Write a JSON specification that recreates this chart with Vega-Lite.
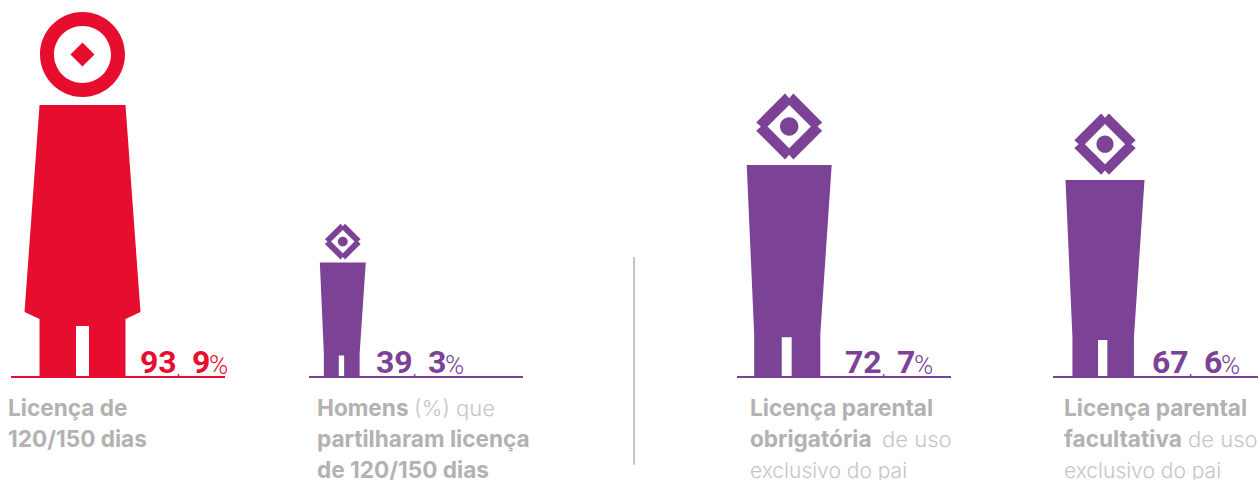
{
"$schema":"https://vega.github.io/schema/vega-lite/v6.json",
"width":1258,"height":480,"padding":0,
"autosize":{"type":"fit","contains":"padding"},
"background":"white",
"config":{"view":{"stroke":null}},
"datasets":{
"figuras":[
{"ordem":0,"categoria":"Licença de 120/150 dias","grupo":"mulheres","valor":93.9,"inteiro":"93","decimal":"9"},
{"ordem":1,"categoria":"Homens (%) que partilharam licença de 120/150 dias","grupo":"homens","valor":39.3,"inteiro":"39","decimal":"3"},
{"ordem":2,"categoria":"Licença parental obrigatória de uso exclusivo do pai","grupo":"homens","valor":72.7,"inteiro":"72","decimal":"7"},
{"ordem":3,"categoria":"Licença parental facultativa de uso exclusivo do pai","grupo":"homens","valor":67.6,"inteiro":"67","decimal":"6"}
],
"rotulos":[
{"ordem":0,"linha":1,"texto":"Licença de","peso":"forte"},
{"ordem":0,"linha":2,"texto":"120/150 dias","peso":"forte"},
{"ordem":1,"linha":1,"texto":"Homens","peso":"forte"},
{"ordem":1,"linha":1,"texto":"(%) que","peso":"leve2"},
{"ordem":1,"linha":2,"texto":"partilharam licença","peso":"forte"},
{"ordem":1,"linha":3,"texto":"de 120/150 dias","peso":"forte"},
{"ordem":2,"linha":1,"texto":"Licença parental","peso":"forte"},
{"ordem":2,"linha":2,"texto":"obrigatória","peso":"forte"},
{"ordem":2,"linha":2,"texto":"de uso","peso":"leve2"},
{"ordem":2,"linha":3,"texto":"exclusivo do pai","peso":"leve"},
{"ordem":3,"linha":1,"texto":"Licença parental","peso":"forte"},
{"ordem":3,"linha":2,"texto":"facultativa","peso":"forte"},
{"ordem":3,"linha":2,"texto":"de uso","peso":"leve2"},
{"ordem":3,"linha":3,"texto":"exclusivo do pai","peso":"leve"}
]
},
"resolve":{"scale":{"x":"independent","y":"independent","size":"independent","shape":"independent"}},
"layer":[
{"data":{"values":[{"divisao":1.5}]},
 "mark":{"type":"rule","color":"#b2b2b2","strokeWidth":1.5},
 "encoding":{
  "x":{"field":"divisao","type":"quantitative","axis":null,"scale":{"domain":[0,1,1.5,2,3],"range":[82.5,343,634,789,1105]}},
  "y":{"datum":30.9,"type":"quantitative","axis":null,"scale":{"domain":[0,100],"range":[377,-11.7]}},
  "y2":{"datum":-22.6}
 }},
{"data":{"name":"figuras"},
 "mark":{"type":"point","filled":true,"opacity":1,"size":4,"shape":"M-107 -1H107V1H-107Z"},
 "encoding":{
  "x":{"field":"ordem","type":"quantitative","axis":null,"scale":{"domain":[0,1,2,3],"range":[118,416,844,1160]}},
  "y":{"datum":0,"type":"quantitative","axis":null,"scale":{"domain":[0,100],"range":[377,-11.7]}},
  "color":{"field":"grupo","type":"nominal","legend":null,"scale":{"domain":["mulheres","homens"],"range":["#e60d2e","#7b4295"]}}
 }},
{"data":{"name":"figuras"},
 "mark":{"type":"point","filled":true,"opacity":1},
 "encoding":{
  "x":{"field":"ordem","type":"quantitative","axis":null,"scale":{"domain":[0,1,2,3],"range":[82.5,342.8,789.2,1105]}},
  "y":{"datum":0,"type":"quantitative","axis":null,"scale":{"domain":[0,100],"range":[377,-11.7]}},
  "size":{"field":"valor","type":"quantitative","legend":null,"scale":{"type":"pow","exponent":2,"domain":[0,100],"range":[0,151000]}},
  "color":{"field":"grupo","type":"nominal","legend":null,"scale":{"domain":["mulheres","homens"],"range":["#e60d2e","#7b4295"]}},
  "shape":{"field":"grupo","type":"nominal","legend":null,"scale":{"domain":["mulheres","homens"],"range":[
"M-.2356 -1.4904H.2356L.3178 -.3562L.2356 -.3178V0H.0356V-.2795H-.0356V0H-.2356V-.3178L-.3178 -.3562ZM-.2329 -1.7671A.2329 .2329 0 1 1 .2329 -1.7671A.2329 .2329 0 1 1 -.2329 -1.7671ZM-.1562 -1.7671A.1562 .1562 0 1 0 .1562 -1.7671A.1562 .1562 0 1 0 -.1562 -1.7671ZM0 -1.8329L.0658 -1.7671L0 -1.7013L-.0658 -1.7671Z",
"M-.3008 -1.5005H.3008L.2204 -.3043V0H.0176V-.281H-.0528V0H-.248V-.3043ZM-.0296 -2.0068L0 -1.9733L.0296 -2.0068L.2338 -1.8026L.2003 -1.773L.2338 -1.7434L.0296 -1.5392L0 -1.5727L-.0296 -1.5392L-.2338 -1.7434L-.2003 -1.773L-.2338 -1.8026ZM0 -1.9264L-.1534 -1.773L0 -1.6196L.1534 -1.773ZM-.0651 -1.773A.0651 .0651 0 1 1 .0651 -1.773A.0651 .0651 0 1 1 -.0651 -1.773Z"
]}}
 }},
{"data":{"name":"figuras"},
 "mark":{"type":"text","align":"left","baseline":"alphabetic","dy":-4,"font":"Roboto","fontWeight":"bold","fontSize":32},
 "encoding":{
  "x":{"field":"ordem","type":"quantitative","axis":null,"scale":{"domain":[0,1,2,3],"range":[140,376,845,1152]}},
  "y":{"datum":0,"type":"quantitative","axis":null,"scale":{"domain":[0,100],"range":[377,-11.7]}},
  "text":{"field":"inteiro"},
  "color":{"field":"grupo","type":"nominal","legend":null}
 }},
{"data":{"name":"figuras"},
 "mark":{"type":"text","align":"left","baseline":"alphabetic","dy":-1,"dx":36,"font":"Roboto","fontSize":15},
 "encoding":{
  "x":{"field":"ordem","type":"quantitative","axis":null,"scale":{"domain":[0,1,2,3],"range":[141,377,846,1153]}},
  "y":{"datum":0,"type":"quantitative","axis":null,"scale":{"domain":[0,100],"range":[377,-11.7]}},
  "text":{"datum":","},
  "color":{"field":"grupo","type":"nominal","legend":null}
 }},
{"data":{"name":"figuras"},
 "mark":{"type":"text","align":"left","baseline":"alphabetic","dy":-4,"dx":51,"font":"Roboto","fontWeight":"bold","fontSize":32},
 "encoding":{
  "x":{"field":"ordem","type":"quantitative","axis":null,"scale":{"domain":[0,1,2,3],"range":[141,377,846,1153]}},
  "y":{"datum":0,"type":"quantitative","axis":null,"scale":{"domain":[0,100],"range":[377,-11.7]}},
  "text":{"field":"decimal"},
  "color":{"field":"grupo","type":"nominal","legend":null}
 }},
{"data":{"name":"figuras"},
 "mark":{"type":"text","align":"left","baseline":"alphabetic","dy":-3,"dx":68,"font":"Roboto","fontWeight":300,"fontSize":26},
 "encoding":{
  "x":{"field":"ordem","type":"quantitative","axis":null,"scale":{"domain":[0,1,2,3],"range":[141,377,846,1153]}},
  "y":{"datum":0,"type":"quantitative","axis":null,"scale":{"domain":[0,100],"range":[377,-11.7]}},
  "text":{"datum":"%"},
  "color":{"field":"grupo","type":"nominal","legend":null}
 }},
{"data":{"name":"rotulos"},
 "transform":[{"filter":"datum.peso=='forte'"}],
 "mark":{"type":"text","align":"left","baseline":"alphabetic","font":"Inter","fontWeight":"bold","fontSize":22.6,"color":"#b2b2b2"},
 "encoding":{
  "x":{"field":"ordem","type":"quantitative","axis":null,"scale":{"domain":[0,1,2,3],"range":[8,317,750,1064]}},
  "y":{"field":"linha","type":"quantitative","axis":null,"scale":{"domain":[1,3],"range":[416,478]}},
  "text":{"field":"texto"}
 }},
{"data":{"name":"rotulos"},
 "transform":[{"filter":"datum.peso=='leve'"}],
 "mark":{"type":"text","align":"left","baseline":"alphabetic","font":"Inter","fontWeight":300,"fontSize":21,"color":"#c6c6c6"},
 "encoding":{
  "x":{"field":"ordem","type":"quantitative","axis":null,"scale":{"domain":[0,1,2,3],"range":[8,317,750,1064]}},
  "y":{"field":"linha","type":"quantitative","axis":null,"scale":{"domain":[1,3],"range":[416,478]}},
  "text":{"field":"texto"}
 }},
{"data":{"name":"rotulos"},
 "transform":[{"filter":"datum.peso=='leve2'"}],
 "mark":{"type":"text","align":"left","baseline":"alphabetic","font":"Inter","fontWeight":300,"fontSize":22,"color":"#c6c6c6"},
 "encoding":{
  "x":{"field":"ordem","type":"quantitative","axis":null,"scale":{"domain":[1,2,3],"range":[414,882,1188]}},
  "y":{"field":"linha","type":"quantitative","axis":null,"scale":{"domain":[1,3],"range":[416,478]}},
  "text":{"field":"texto"}
 }}
]
}
